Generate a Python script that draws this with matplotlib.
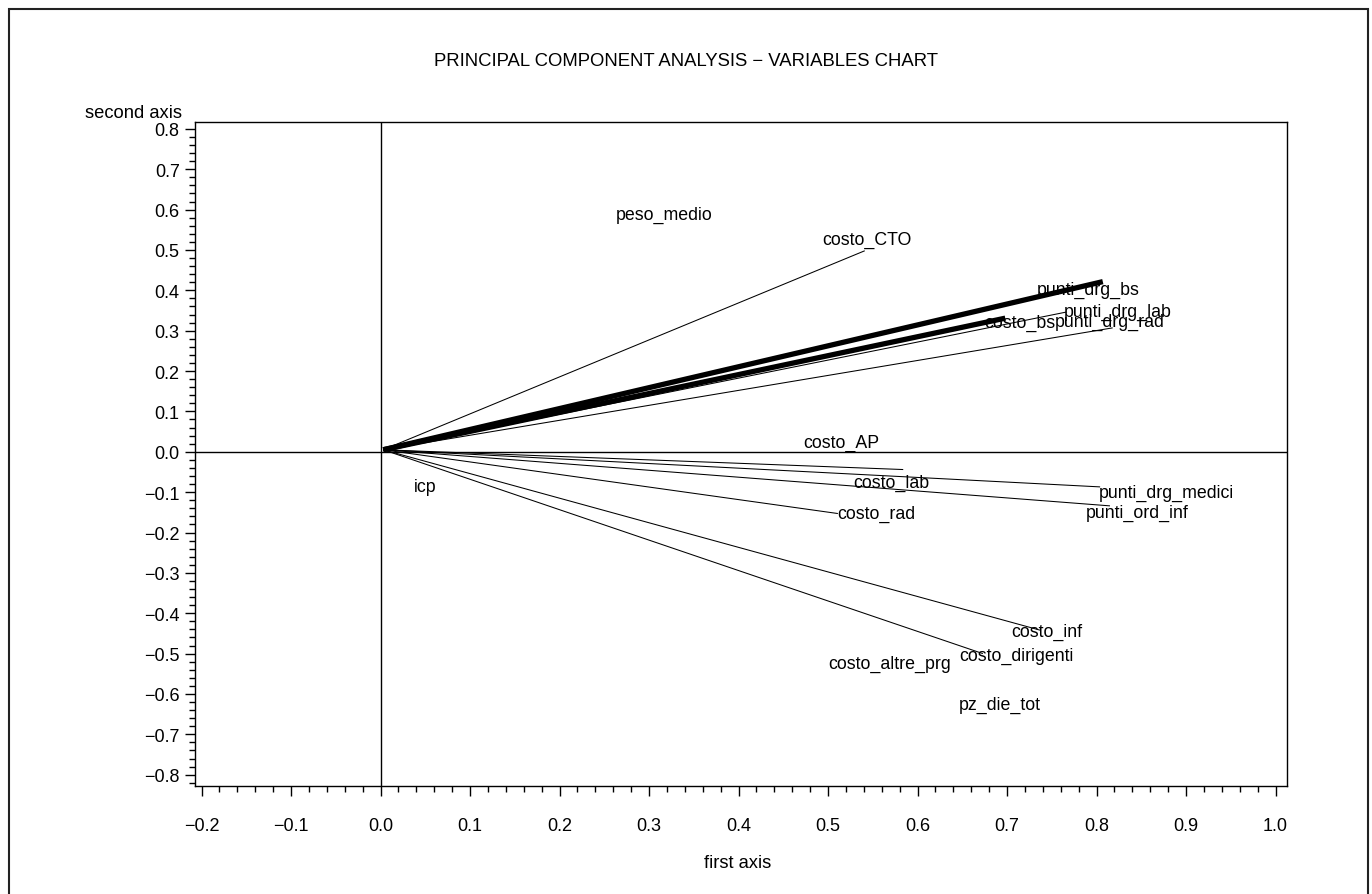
import matplotlib
matplotlib.use("Agg")
import matplotlib.pyplot as plt
from matplotlib.patches import Rectangle
from matplotlib.ticker import MultipleLocator, FuncFormatter

plt.rcParams['font.family'] = ['Liberation Sans', 'DejaVu Sans']

# Vectors (line end points) in component space
vec_names = ["costo_CTO", "punti_drg_bs", "costo_bs", "punti_drg_lab", "punti_drg_rad",
             "costo_lab", "punti_drg_medici", "punti_ord_inf", "costo_rad",
             "costo_inf", "costo_dirigenti"]
vec_x = [0.541, 0.807, 0.698, 0.767, 0.818, 0.584, 0.804, 0.815, 0.511, 0.737, 0.673]
vec_y = [0.498, 0.4215, 0.331, 0.3465, 0.307, -0.044, -0.087, -0.134, -0.153, -0.442, -0.500]
vec_thick = [False, True, True, False, False, False, False, False, False, False, False]

# Variable labels
lab_names = ["peso_medio", "costo_CTO", "punti_drg_bs", "punti_drg_lab", "costo_bs",
             "punti_drg_rad", "costo_AP", "costo_lab", "punti_drg_medici", "punti_ord_inf",
             "costo_rad", "icp", "costo_inf", "costo_dirigenti", "costo_altre_prg", "pz_die_tot"]
lab_x = [0.317, 0.544, 0.791, 0.824, 0.714, 0.815, 0.515, 0.571, 0.878, 0.845,
         0.554, 0.050, 0.744, 0.711, 0.569, 0.692]
lab_y = [0.587, 0.525, 0.402, 0.347, 0.321, 0.322, 0.022, -0.077, -0.100, -0.149,
         -0.153, -0.087, -0.446, -0.504, -0.525, -0.626]

origin = (0.003, 0.005)

W, H = 1372, 895
fig = plt.figure(figsize=(W / 100, H / 100), dpi=100)
fig.patch.set_facecolor('white')

ax = fig.add_axes([195 / W, 1 - 787 / H, (1287 - 195) / W, (787 - 123) / H])
ax.set_xlim(-0.2073, 1.0128)
ax.set_ylim(-0.828, 0.817)

ax.axhline(0, color='black', lw=1.0, zorder=1)
ax.axvline(0, color='black', lw=1.0, zorder=1)

for x, y, thick in zip(vec_x, vec_y, vec_thick):
    ax.plot([origin[0], x], [origin[1], y], color='black',
            lw=3.8 if thick else 0.75, solid_capstyle='butt', zorder=2)

for name, x, y in zip(lab_names, lab_x, lab_y):
    ax.text(x, y, name, ha='center', va='center', fontsize=12.8, color='black', zorder=3)


def fmt(v, pos):
    s = "%.1f" % abs(v)
    if v < -1e-9:
        return "\u2212" + s
    return s


ax.xaxis.set_major_locator(MultipleLocator(0.1))
ax.xaxis.set_minor_locator(MultipleLocator(0.02))
ax.yaxis.set_major_locator(MultipleLocator(0.1))
ax.yaxis.set_minor_locator(MultipleLocator(0.02))
ax.xaxis.set_major_formatter(FuncFormatter(fmt))
ax.yaxis.set_major_formatter(FuncFormatter(fmt))
ax.tick_params(which='major', direction='out', length=7, width=1.0, labelsize=13,
               top=False, right=False)
ax.tick_params(which='minor', direction='out', length=4, width=1.0, top=False, right=False)
ax.tick_params(axis='x', which='major', pad=15)
ax.tick_params(axis='y', which='major', pad=4)
for s in ax.spines.values():
    s.set_linewidth(1.0)

fig.text(686 / W, 1 - 62 / H, "PRINCIPAL COMPONENT ANALYSIS \u2212 VARIABLES CHART",
         ha='center', va='center', fontsize=13.3)
fig.text(85 / W, 1 - 113 / H, "second axis", ha='left', va='center', fontsize=13.2)
fig.text(738 / W, 1 - 864 / H, "first axis", ha='center', va='center', fontsize=13.2)

fig.add_artist(Rectangle((8.5 / W, -0.02), (1368 - 8.5) / W, 1.02 - 9.5 / H,
                         transform=fig.transFigure, fill=False, edgecolor='#222222', lw=1.5))

fig.savefig("out.png", dpi=100)
